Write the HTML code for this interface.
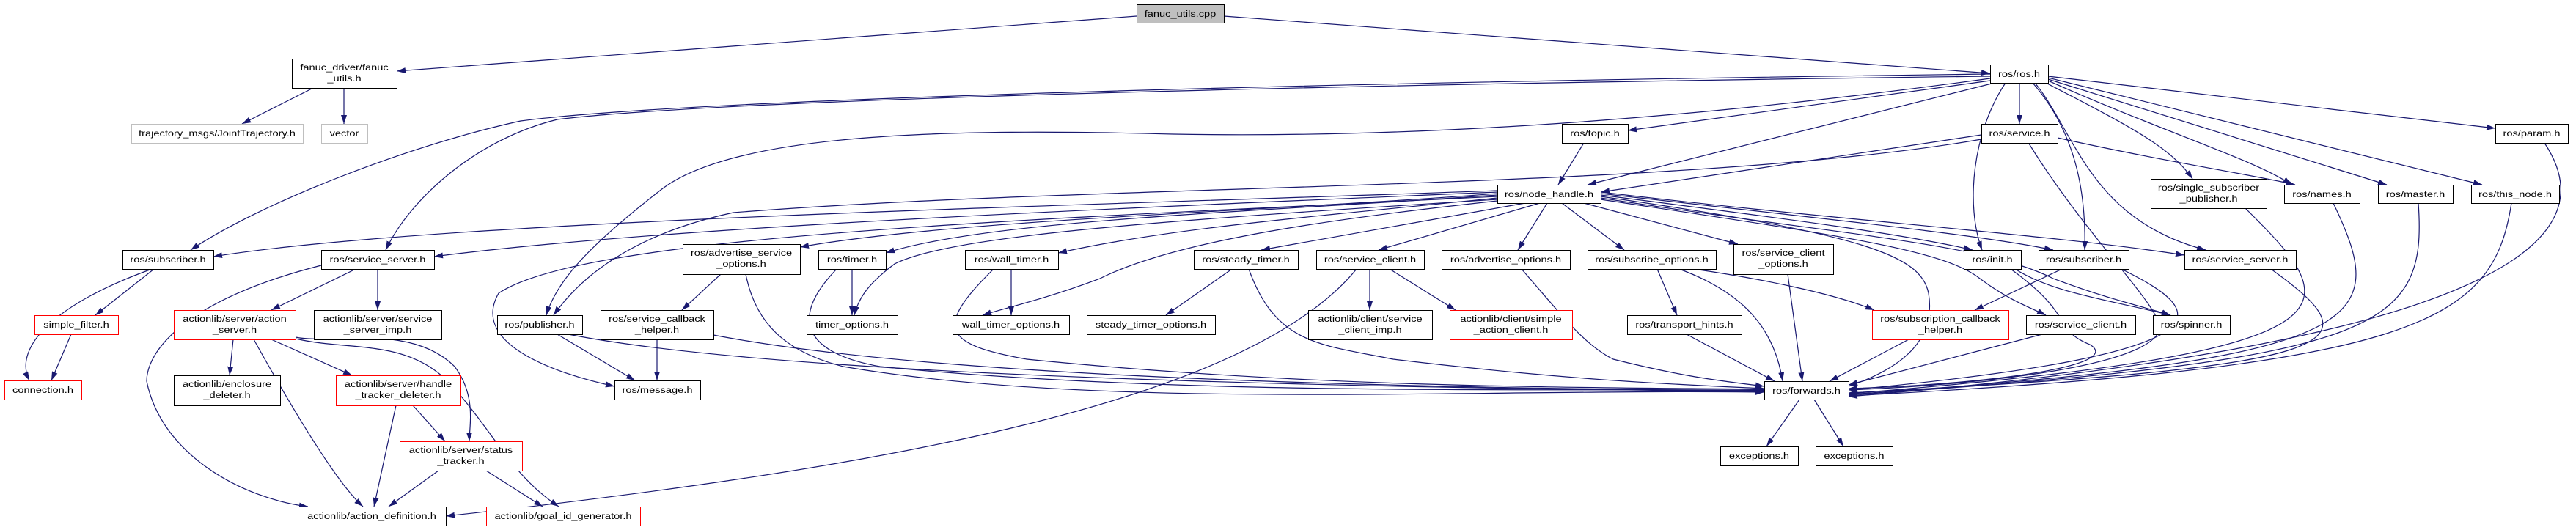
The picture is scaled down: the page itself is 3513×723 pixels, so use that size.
<!DOCTYPE html>
<html><head><meta charset="utf-8"><style>
html,body{margin:0;padding:0;background:#fff;width:3513px;height:723px;overflow:hidden}
svg text{font-family:"Liberation Sans",sans-serif;font-size:12px;fill:#000;text-anchor:middle}
</style></head><body>
<svg width="3513" height="723" viewBox="0 0 3513 723" xmlns="http://www.w3.org/2000/svg">
<defs><marker id="a" markerWidth="12" markerHeight="8" refX="12" refY="4" orient="auto" markerUnits="userSpaceOnUse"><path d="M0,0 L12,4 L0,8 z" fill="#191970"/></marker></defs>
<g fill="none" stroke="#191970" stroke-width="1.2" marker-end="url(#a)">
<path d="M1550,22 L541,97"/>
<path d="M1669,22 L2714,100"/>
<path d="M427,120 L330,169"/>
<path d="M469,120 L469,169"/>
<path d="M2714,101 C1600,115 900,140 710,165 C550,200 350,280 260,341"/>
<path d="M2714,104 C1600,118 950,140 760,163 C650,190 560,270 526,341"/>
<path d="M2714,107 C2400,150 2000,190 1600,183 C1300,175 1000,180 900,260 C810,330 760,380 745,430"/>
<path d="M2714,110 L2220,178"/>
<path d="M2720,113 L2165,252"/>
<path d="M2735,113 C2690,180 2680,280 2703,341"/>
<path d="M2754,113 L2754,169"/>
<path d="M2772,113 C2830,180 2845,260 2843,341"/>
<path d="M2775,113 C2830,180 2850,300 3008,341"/>
<path d="M2790,113 C2900,170 2960,200 2990,244"/>
<path d="M2793,110 C2950,180 3080,220 3125,252"/>
<path d="M2793,108 L3255,252"/>
<path d="M2793,106 L3385,252"/>
<path d="M2793,104 L3403,175"/>
<path d="M2702,184 L2183,262"/>
<path d="M2702,190 C2300,260 1500,250 1000,290 C860,320 790,380 755,430"/>
<path d="M2806,188 C2950,220 3080,240 3130,252"/>
<path d="M2767,196 C2850,330 2950,420 2945,450 C2930,500 2700,525 2521,532"/>
<path d="M2160,195 L2125,252"/>
<path d="M2042,260 C1500,280 600,300 291,350"/>
<path d="M2042,262 C1500,285 900,310 592,350"/>
<path d="M2042,264 C1700,290 1300,300 1091,337"/>
<path d="M2042,266 C1700,290 1350,300 1208,345"/>
<path d="M2042,270 C1800,295 1600,310 1443,345"/>
<path d="M2080,277 L1720,341"/>
<path d="M2100,277 L1880,341"/>
<path d="M2110,277 L2070,341"/>
<path d="M2130,277 L2215,341"/>
<path d="M2160,277 L2370,333"/>
<path d="M2183,266 C2450,300 2600,320 2690,341"/>
<path d="M2183,264 C2500,300 2700,320 2800,341"/>
<path d="M2183,262 C2500,300 2800,320 2979,348"/>
<path d="M2042,268 C1400,300 800,320 680,400 C640,470 760,510 838,527"/>
<path d="M2042,272 C1600,300 1300,320 1220,360 C1180,390 1170,410 1165,430"/>
<path d="M2042,274 C1800,300 1600,330 1500,380 C1420,410 1370,420 1340,430"/>
<path d="M2183,270 C2500,320 2700,330 2800,380 C2880,410 2930,420 2960,430"/>
<path d="M2183,272 C2500,320 2650,340 2700,380 C2740,410 2770,420 2790,430"/>
<path d="M2183,268 C2550,320 2620,350 2630,400 C2640,460 2600,500 2521,527"/>
<path d="M207,367 C60,420 20,480 40,519"/>
<path d="M210,367 L130,430"/>
<path d="M97,456 L70,519"/>
<path d="M438,362 C250,410 200,480 200,520 C220,620 330,680 420,691"/>
<path d="M485,367 L370,423"/>
<path d="M515,367 L515,423"/>
<path d="M318,463 L313,512"/>
<path d="M346,463 C400,560 460,660 495,691"/>
<path d="M370,463 L480,512"/>
<path d="M403,460 C450,470 560,440 620,500 C650,540 640,580 640,602"/>
<path d="M403,462 C480,480 560,460 620,530 C680,600 700,650 762,691"/>
<path d="M540,553 L510,691"/>
<path d="M563,553 L607,602"/>
<path d="M598,642 L530,691"/>
<path d="M663,642 L740,691"/>
<path d="M983,374 L930,423"/>
<path d="M1017,374 C1030,440 1070,480 1150,500 C1500,560 2000,530 2406,535"/>
<path d="M973,457 C1300,520 2000,530 2406,533"/>
<path d="M896,463 L896,519"/>
<path d="M760,456 L866,519"/>
<path d="M775,456 C1100,520 2000,530 2406,534"/>
<path d="M1162,367 L1162,430"/>
<path d="M1141,367 C1080,430 1090,480 1200,500 C1600,540 2100,530 2406,532"/>
<path d="M1379,367 L1379,430"/>
<path d="M1355,367 C1270,450 1290,470 1400,490 C1800,530 2150,528 2406,531"/>
<path d="M1680,367 L1590,430"/>
<path d="M1703,367 C1740,470 1800,470 1900,490 C2150,520 2300,525 2406,530"/>
<path d="M1868,367 L1868,423"/>
<path d="M1895,367 L1985,423"/>
<path d="M1850,367 C1700,550 1200,640 608,704"/>
<path d="M2075,367 C2130,430 2160,470 2200,490 C2300,515 2350,520 2406,527"/>
<path d="M2260,367 L2287,430"/>
<path d="M2290,367 C2380,400 2420,450 2431,520"/>
<path d="M2310,367 C2400,380 2500,400 2556,423"/>
<path d="M2438,374 L2458,520"/>
<path d="M2748,367 C2800,400 2880,410 2960,430"/>
<path d="M2742,367 C2830,430 2800,450 2850,470 C2900,500 2700,525 2521,530"/>
<path d="M2812,367 L2693,423"/>
<path d="M2893,367 C3000,420 3080,480 2521,532"/>
<path d="M3097,367 C3240,470 3220,500 2521,536"/>
<path d="M3062,284 C3200,420 3240,480 2521,537"/>
<path d="M3182,277 C3260,440 3240,490 2521,538"/>
<path d="M3298,277 C3310,450 3250,490 2521,539"/>
<path d="M3425,277 C3400,440 3300,500 2521,540"/>
<path d="M3470,195 C3540,300 3500,460 2521,541"/>
<path d="M2300,456 L2420,520"/>
<path d="M2603,463 L2495,520"/>
<path d="M2785,456 L2521,525"/>
<path d="M2454,545 L2409,609"/>
<path d="M2474,545 L2514,609"/>
</g>
<g stroke="#000" stroke-width="1" fill="#fff">
<rect x="1550.5" y="6.5" width="119" height="25" fill="#bfbfbf"/>
<rect x="398.5" y="80.5" width="143" height="40"/>
<rect x="179.5" y="169.5" width="234" height="26" stroke="#bfbfbf"/>
<rect x="438.5" y="169.5" width="63" height="26" stroke="#bfbfbf"/>
<rect x="2714.5" y="88.5" width="79" height="25"/>
<rect x="2130.5" y="169.5" width="90" height="26"/>
<rect x="2702.5" y="169.5" width="104" height="26"/>
<rect x="3403.5" y="169.5" width="99" height="26"/>
<rect x="2042.5" y="252.5" width="141" height="25"/>
<rect x="2933.5" y="244.5" width="158" height="40"/>
<rect x="3115.5" y="252.5" width="103" height="25"/>
<rect x="3243.5" y="252.5" width="102" height="25"/>
<rect x="3370.5" y="252.5" width="120" height="25"/>
<rect x="167.5" y="341.5" width="124" height="26"/>
<rect x="438.5" y="341.5" width="154" height="26"/>
<rect x="931.5" y="333.5" width="160" height="41"/>
<rect x="1116.5" y="341.5" width="92" height="26"/>
<rect x="1316.5" y="341.5" width="127" height="26"/>
<rect x="1628.5" y="341.5" width="142" height="26"/>
<rect x="1795.5" y="341.5" width="147" height="26"/>
<rect x="1966.5" y="341.5" width="175" height="26"/>
<rect x="2165.5" y="341.5" width="175" height="26"/>
<rect x="2364.5" y="333.5" width="136" height="41"/>
<rect x="2678.5" y="341.5" width="78" height="26"/>
<rect x="2780.5" y="341.5" width="123" height="26"/>
<rect x="2979.5" y="341.5" width="152" height="26"/>
<rect x="47.5" y="430.5" width="114" height="26" stroke="#f00"/>
<rect x="237.5" y="423.5" width="166" height="40" stroke="#f00"/>
<rect x="428.5" y="423.5" width="174" height="40"/>
<rect x="678.5" y="430.5" width="116" height="26"/>
<rect x="819.5" y="423.5" width="154" height="40"/>
<rect x="1100.5" y="430.5" width="124" height="26"/>
<rect x="1299.5" y="430.5" width="159" height="26"/>
<rect x="1482.5" y="430.5" width="175" height="26"/>
<rect x="1784.5" y="423.5" width="169" height="40"/>
<rect x="1977.5" y="423.5" width="167" height="40" stroke="#f00"/>
<rect x="2219.5" y="430.5" width="156" height="26"/>
<rect x="2553.5" y="423.5" width="186" height="40" stroke="#f00"/>
<rect x="2763.5" y="430.5" width="149" height="26"/>
<rect x="2936.5" y="430.5" width="105" height="26"/>
<rect x="6.5" y="519.5" width="105" height="26" stroke="#f00"/>
<rect x="237.5" y="512.5" width="145" height="41"/>
<rect x="458.5" y="512.5" width="170" height="41" stroke="#f00"/>
<rect x="838.5" y="519.5" width="117" height="26"/>
<rect x="2406.5" y="520.5" width="115" height="25"/>
<rect x="545.5" y="602.5" width="167" height="40" stroke="#f00"/>
<rect x="2346.5" y="609.5" width="106" height="26"/>
<rect x="2476.5" y="609.5" width="105" height="26"/>
<rect x="406.5" y="691.5" width="202" height="26"/>
<rect x="663.5" y="691.5" width="210" height="26" stroke="#f00"/>
</g>
<g>
<text transform="translate(1609.5,23) scale(1.22,1)">fanuc_utils.cpp</text>
<text transform="translate(469.5,96) scale(1.22,1)">fanuc_driver/fanuc</text>
<text transform="translate(469.5,111) scale(1.22,1)">_utils.h</text>
<text transform="translate(296,186) scale(1.22,1)">trajectory_msgs/JointTrajectory.h</text>
<text transform="translate(469.5,186) scale(1.22,1)">vector</text>
<text transform="translate(2753.5,105) scale(1.22,1)">ros/ros.h</text>
<text transform="translate(2175,186) scale(1.22,1)">ros/topic.h</text>
<text transform="translate(2754,186) scale(1.22,1)">ros/service.h</text>
<text transform="translate(3452.5,186) scale(1.22,1)">ros/param.h</text>
<text transform="translate(2112.5,269) scale(1.22,1)">ros/node_handle.h</text>
<text transform="translate(3012,260) scale(1.22,1)">ros/single_subscriber</text>
<text transform="translate(3012,275) scale(1.22,1)">_publisher.h</text>
<text transform="translate(3166.5,269) scale(1.22,1)">ros/names.h</text>
<text transform="translate(3294,269) scale(1.22,1)">ros/master.h</text>
<text transform="translate(3430,269) scale(1.22,1)">ros/this_node.h</text>
<text transform="translate(229,358) scale(1.22,1)">ros/subscriber.h</text>
<text transform="translate(515,358) scale(1.22,1)">ros/service_server.h</text>
<text transform="translate(1011,349) scale(1.22,1)">ros/advertise_service</text>
<text transform="translate(1011,364) scale(1.22,1)">_options.h</text>
<text transform="translate(1162,358) scale(1.22,1)">ros/timer.h</text>
<text transform="translate(1379.5,358) scale(1.22,1)">ros/wall_timer.h</text>
<text transform="translate(1699,358) scale(1.22,1)">ros/steady_timer.h</text>
<text transform="translate(1868.5,358) scale(1.22,1)">ros/service_client.h</text>
<text transform="translate(2053.5,358) scale(1.22,1)">ros/advertise_options.h</text>
<text transform="translate(2252.5,358) scale(1.22,1)">ros/subscribe_options.h</text>
<text transform="translate(2432,349) scale(1.22,1)">ros/service_client</text>
<text transform="translate(2432,364) scale(1.22,1)">_options.h</text>
<text transform="translate(2717,358) scale(1.22,1)">ros/init.h</text>
<text transform="translate(2841.5,358) scale(1.22,1)">ros/subscriber.h</text>
<text transform="translate(3055,358) scale(1.22,1)">ros/service_server.h</text>
<text transform="translate(104,447) scale(1.22,1)">simple_filter.h</text>
<text transform="translate(320,439) scale(1.22,1)">actionlib/server/action</text>
<text transform="translate(320,454) scale(1.22,1)">_server.h</text>
<text transform="translate(515,439) scale(1.22,1)">actionlib/server/service</text>
<text transform="translate(515,454) scale(1.22,1)">_server_imp.h</text>
<text transform="translate(736,447) scale(1.22,1)">ros/publisher.h</text>
<text transform="translate(896,439) scale(1.22,1)">ros/service_callback</text>
<text transform="translate(896,454) scale(1.22,1)">_helper.h</text>
<text transform="translate(1162,447) scale(1.22,1)">timer_options.h</text>
<text transform="translate(1378.5,447) scale(1.22,1)">wall_timer_options.h</text>
<text transform="translate(1569.5,447) scale(1.22,1)">steady_timer_options.h</text>
<text transform="translate(1868.5,439) scale(1.22,1)">actionlib/client/service</text>
<text transform="translate(1868.5,454) scale(1.22,1)">_client_imp.h</text>
<text transform="translate(2060.5,439) scale(1.22,1)">actionlib/client/simple</text>
<text transform="translate(2060.5,454) scale(1.22,1)">_action_client.h</text>
<text transform="translate(2297,447) scale(1.22,1)">ros/transport_hints.h</text>
<text transform="translate(2646,439) scale(1.22,1)">ros/subscription_callback</text>
<text transform="translate(2646,454) scale(1.22,1)">_helper.h</text>
<text transform="translate(2837.5,447) scale(1.22,1)">ros/service_client.h</text>
<text transform="translate(2988.5,447) scale(1.22,1)">ros/spinner.h</text>
<text transform="translate(58.5,536) scale(1.22,1)">connection.h</text>
<text transform="translate(309.5,528) scale(1.22,1)">actionlib/enclosure</text>
<text transform="translate(309.5,543) scale(1.22,1)">_deleter.h</text>
<text transform="translate(543,528) scale(1.22,1)">actionlib/server/handle</text>
<text transform="translate(543,543) scale(1.22,1)">_tracker_deleter.h</text>
<text transform="translate(896.5,536) scale(1.22,1)">ros/message.h</text>
<text transform="translate(2463.5,537) scale(1.22,1)">ros/forwards.h</text>
<text transform="translate(628.5,618) scale(1.22,1)">actionlib/server/status</text>
<text transform="translate(628.5,633) scale(1.22,1)">_tracker.h</text>
<text transform="translate(2399,626) scale(1.22,1)">exceptions.h</text>
<text transform="translate(2528.5,626) scale(1.22,1)">exceptions.h</text>
<text transform="translate(507,708) scale(1.22,1)">actionlib/action_definition.h</text>
<text transform="translate(768,708) scale(1.22,1)">actionlib/goal_id_generator.h</text>
</g>
</svg>
</body></html>
